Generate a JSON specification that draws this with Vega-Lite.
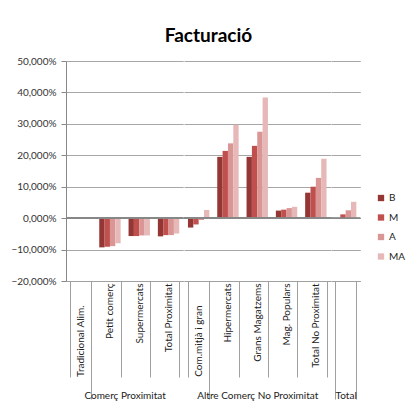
{
  "$schema": "https://vega.github.io/schema/vega-lite/v6.json",
  "padding": {"left": 10, "top": 27, "right": 4, "bottom": 0},
  "config": {
    "locale": {"number": {"decimal": ",", "thousands": ".", "grouping": [3], "currency": ["", " €"]}},
    "view": {"stroke": null},
    "font": "Lato",
    "axis": {"labelFont": "Lato", "titleFont": "Lato"}
  },
  "title": {"text": "Facturació", "font": "Lato", "fontSize": 19, "fontWeight": "bold", "color": "#000", "anchor": "middle", "frame": "bounds", "offset": 10},
  "data": {"values": [
    {"cat": "Tradicional Alim.", "group": "Comerç Proximitat", "serie": "B", "value": 0.003},
    {"cat": "Tradicional Alim.", "group": "Comerç Proximitat", "serie": "M", "value": 0.003},
    {"cat": "Tradicional Alim.", "group": "Comerç Proximitat", "serie": "A", "value": 0.002},
    {"cat": "Tradicional Alim.", "group": "Comerç Proximitat", "serie": "MA", "value": 0.002},
    {"cat": "Petit comerç", "group": "Comerç Proximitat", "serie": "B", "value": -0.093},
    {"cat": "Petit comerç", "group": "Comerç Proximitat", "serie": "M", "value": -0.091},
    {"cat": "Petit comerç", "group": "Comerç Proximitat", "serie": "A", "value": -0.089},
    {"cat": "Petit comerç", "group": "Comerç Proximitat", "serie": "MA", "value": -0.080},
    {"cat": "Supermercats", "group": "Comerç Proximitat", "serie": "B", "value": -0.057},
    {"cat": "Supermercats", "group": "Comerç Proximitat", "serie": "M", "value": -0.057},
    {"cat": "Supermercats", "group": "Comerç Proximitat", "serie": "A", "value": -0.055},
    {"cat": "Supermercats", "group": "Comerç Proximitat", "serie": "MA", "value": -0.055},
    {"cat": "Total Proximitat", "group": "Comerç Proximitat", "serie": "B", "value": -0.058},
    {"cat": "Total Proximitat", "group": "Comerç Proximitat", "serie": "M", "value": -0.054},
    {"cat": "Total Proximitat", "group": "Comerç Proximitat", "serie": "A", "value": -0.054},
    {"cat": "Total Proximitat", "group": "Comerç Proximitat", "serie": "MA", "value": -0.049},
    {"cat": "Com.mitjà i gran", "group": "Altre Comerç No Proximitat", "serie": "B", "value": -0.030},
    {"cat": "Com.mitjà i gran", "group": "Altre Comerç No Proximitat", "serie": "M", "value": -0.020},
    {"cat": "Com.mitjà i gran", "group": "Altre Comerç No Proximitat", "serie": "A", "value": -0.006},
    {"cat": "Com.mitjà i gran", "group": "Altre Comerç No Proximitat", "serie": "MA", "value": 0.026},
    {"cat": "Hipermercats", "group": "Altre Comerç No Proximitat", "serie": "B", "value": 0.195},
    {"cat": "Hipermercats", "group": "Altre Comerç No Proximitat", "serie": "M", "value": 0.214},
    {"cat": "Hipermercats", "group": "Altre Comerç No Proximitat", "serie": "A", "value": 0.238},
    {"cat": "Hipermercats", "group": "Altre Comerç No Proximitat", "serie": "MA", "value": 0.297},
    {"cat": "Grans Magatzems", "group": "Altre Comerç No Proximitat", "serie": "B", "value": 0.195},
    {"cat": "Grans Magatzems", "group": "Altre Comerç No Proximitat", "serie": "M", "value": 0.230},
    {"cat": "Grans Magatzems", "group": "Altre Comerç No Proximitat", "serie": "A", "value": 0.275},
    {"cat": "Grans Magatzems", "group": "Altre Comerç No Proximitat", "serie": "MA", "value": 0.384},
    {"cat": "Mag. Populars", "group": "Altre Comerç No Proximitat", "serie": "B", "value": 0.024},
    {"cat": "Mag. Populars", "group": "Altre Comerç No Proximitat", "serie": "M", "value": 0.027},
    {"cat": "Mag. Populars", "group": "Altre Comerç No Proximitat", "serie": "A", "value": 0.032},
    {"cat": "Mag. Populars", "group": "Altre Comerç No Proximitat", "serie": "MA", "value": 0.036},
    {"cat": "Total No Proximitat", "group": "Altre Comerç No Proximitat", "serie": "B", "value": 0.081},
    {"cat": "Total No Proximitat", "group": "Altre Comerç No Proximitat", "serie": "M", "value": 0.100},
    {"cat": "Total No Proximitat", "group": "Altre Comerç No Proximitat", "serie": "A", "value": 0.128},
    {"cat": "Total No Proximitat", "group": "Altre Comerç No Proximitat", "serie": "MA", "value": 0.189},
    {"cat": "Total", "group": "Total", "serie": "B", "value": 0.0},
    {"cat": "Total", "group": "Total", "serie": "M", "value": 0.012},
    {"cat": "Total", "group": "Total", "serie": "A", "value": 0.025},
    {"cat": "Total", "group": "Total", "serie": "MA", "value": 0.052}
  ]},
  "spacing": 0,
  "bounds": "flush",
  "resolve": {"scale": {"color": "shared"}},
  "hconcat": [
    {
      "width": 117.2, "height": 220,
      "transform": [{"filter": "datum.group === 'Comerç Proximitat'"}],
      "layer": [
        {
          "mark": {"type": "bar"},
          "encoding": {
            "x": {"field": "cat", "type": "nominal", "sort": null, "title": "Comerç Proximitat",
              "scale": {"paddingInner": 0.27, "paddingOuter": 0.135},
              "axis": {"labelAngle": -90, "labelFontSize": 10, "labelColor": "#222", "labelPadding": -94, "tickBand": "extent",
                "tickSize": {"condition": {"test": "datum.index === 0", "value": 118}, "value": 96},
                "tickColor": "#a0a0a0", "domainColor": "#a0a0a0", "titleFontSize": 10, "titleFontWeight": "normal", "titleColor": "#222", "titlePadding": -9}},
            "xOffset": {"field": "serie", "sort": ["B", "M", "A", "MA"]},
            "y": {"field": "value", "type": "quantitative", "scale": {"domain": [-0.2, 0.5], "nice": false},
              "axis": {"title": null, "format": ".3%", "values": [-0.2, -0.1, 0, 0.1, 0.2, 0.3, 0.4, 0.5], "tickCount": 12, "labelOverlap": false, "gridColor": "#a6a6a6", "domainColor": "#888", "tickColor": "#888", "tickSize": 5, "labelFontSize": 10, "labelColor": "#333", "labelPadding": 5}},
            "color": {"field": "serie", "type": "nominal", "scale": {"domain": ["B", "M", "A", "MA"], "range": ["#943634", "#C0504D", "#D99694", "#E6B9B8"]},
              "legend": {"title": null, "orient": "none", "legendX": 310, "legendY": 132, "symbolType": "square", "symbolSize": 40, "labelFontSize": 10, "labelColor": "#222", "rowPadding": 9.5, "labelOffset": 3}}
          }
        },
        {"mark": {"type": "rule", "color": "#888"}, "encoding": {"y": {"datum": 0}}}
      ]
    },
    {
      "width": 146.5, "height": 220,
      "transform": [{"filter": "datum.group === 'Altre Comerç No Proximitat'"}],
      "layer": [
        {
          "mark": {"type": "bar"},
          "encoding": {
            "x": {"field": "cat", "type": "nominal", "sort": null, "title": "Altre Comerç No Proximitat",
              "scale": {"paddingInner": 0.27, "paddingOuter": 0.135},
              "axis": {"labelAngle": -90, "labelFontSize": 10, "labelColor": "#222", "labelPadding": -94, "tickBand": "extent",
                "tickSize": {"condition": {"test": "datum.index === 0", "value": 118}, "value": 96},
                "tickColor": "#a0a0a0", "domainColor": "#a0a0a0", "titleFontSize": 10, "titleFontWeight": "normal", "titleColor": "#222", "titlePadding": -9}},
            "xOffset": {"field": "serie", "sort": ["B", "M", "A", "MA"]},
            "y": {"field": "value", "type": "quantitative", "scale": {"domain": [-0.2, 0.5], "nice": false},
              "axis": {"title": null, "values": [-0.2, -0.1, 0, 0.1, 0.2, 0.3, 0.4, 0.5], "tickCount": 12, "gridColor": "#a6a6a6", "labels": false, "ticks": false, "domain": false}},
            "color": {"field": "serie", "type": "nominal", "legend": null}
          }
        },
        {"mark": {"type": "rule", "color": "#888"}, "encoding": {"y": {"datum": 0}}}
      ]
    },
    {
      "width": 29.3, "height": 220,
      "transform": [{"filter": "datum.group === 'Total'"}],
      "layer": [
        {
          "mark": {"type": "bar"},
          "encoding": {
            "x": {"field": "cat", "type": "nominal", "sort": null, "title": "Total",
              "scale": {"paddingInner": 0.27, "paddingOuter": 0.135},
              "axis": {"labels": false, "tickBand": "extent", "tickSize": 118,
                "tickColor": "#a0a0a0", "domainColor": "#a0a0a0", "titleFontSize": 10, "titleFontWeight": "normal", "titleColor": "#222", "titlePadding": -9}},
            "xOffset": {"field": "serie", "sort": ["B", "M", "A", "MA"]},
            "y": {"field": "value", "type": "quantitative", "scale": {"domain": [-0.2, 0.5], "nice": false},
              "axis": {"title": null, "values": [-0.2, -0.1, 0, 0.1, 0.2, 0.3, 0.4, 0.5], "tickCount": 12, "gridColor": "#a6a6a6", "labels": false, "ticks": false, "domain": false}},
            "color": {"field": "serie", "type": "nominal", "legend": null}
          }
        },
        {"mark": {"type": "rule", "color": "#888"}, "encoding": {"y": {"datum": 0}}}
      ]
    }
  ]
}
